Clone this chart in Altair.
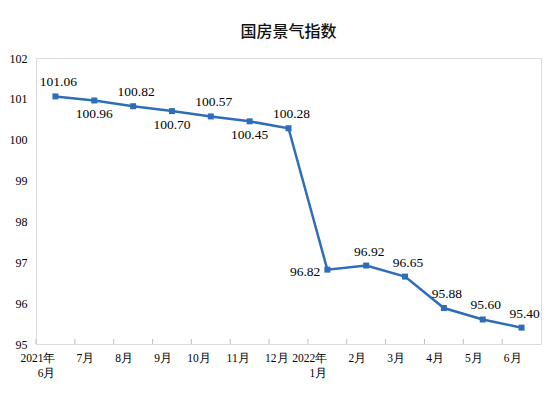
import altair as alt
import pandas as pd

months = ["2021年|6月", "7月", "8月", "9月", "10月", "11月", "12月",
          "2022年|1月", "2月", "3月", "4月", "5月", "6月"]
values = [101.06, 100.96, 100.82, 100.70, 100.57, 100.45, 100.28,
          96.82, 96.92, 96.65, 95.88, 95.60, 95.40]
label_pos = ["above", "below", "above", "below", "above", "below", "above",
             "left", "above", "above", "above", "above", "above"]
y_ticks = [95, 96, 97, 98, 99, 100, 101, 102]

df = pd.DataFrame({"month": months, "value": values, "pos": label_pos,
                   "text": [f"{v:.2f}" for v in values]})

W, H = 505, 286
BLUE = "#2e6eb8"
GRAY = "#bfbfbf"
SERIF = "Liberation Serif"

xscale = alt.Scale(type="band", paddingInner=0, paddingOuter=0)
yscale = alt.Scale(domain=[95, 102], nice=False, zero=False)

x_enc = alt.X("month:N", sort=None, scale=xscale, bandPosition=0.5,
              axis=alt.Axis(title=None, labelAngle=0, ticks=False, domain=False,
                            labelExpr="split(datum.label, '|')",
                            labelFont=SERIF, labelFontSize=11.5, labelColor="#000",
                            labelPadding=14, labelLineHeight=15))
y_enc = alt.Y("value:Q", scale=yscale,
              axis=alt.Axis(title=None, values=y_ticks, ticks=False, domain=False,
                            grid=False, labelFont=SERIF, labelFontSize=12,
                            labelColor="#000", labelPadding=9))

base = alt.Chart(df)

line = base.mark_line(color=BLUE, strokeWidth=2.5).encode(x=x_enc, y=y_enc)
pts = base.mark_square(color=BLUE, size=36, opacity=1).encode(
    x=alt.X("month:N", sort=None, scale=xscale, bandPosition=0.5),
    y=alt.Y("value:Q", scale=yscale))

ticks = base.mark_rule(color=GRAY, strokeWidth=1).encode(
    x=alt.X("month:N", sort=None, scale=xscale, bandPosition=0),
    y=alt.value(H - 5), y2=alt.value(H))

def labels(pos, **kw):
    return base.transform_filter(alt.datum.pos == pos).mark_text(
        font=SERIF, fontSize=13.5, color="#000", baseline="middle", **kw).encode(
        x=alt.X("month:N", sort=None, scale=xscale, bandPosition=0.5),
        y=alt.Y("value:Q", scale=yscale),
        text="text:N")

lab_above = labels("above", dy=-14, dx=3)
lab_below = labels("below", dy=14)
lab_left = labels("left", align="right", dx=-7, dy=2)

chart = alt.layer(ticks, line, pts, lab_above, lab_below, lab_left).properties(
    width=W, height=H,
    title=alt.TitleParams("国房景气指数", font="Noto Sans CJK SC", fontSize=16,
                          fontWeight=500, color="#111", anchor="middle",
                          offset=12),
    autosize=alt.AutoSizeParams(type="none"),
    padding={"left": 28, "top": 50, "right": 7, "bottom": 54},
).configure_view(stroke=GRAY, strokeWidth=1.2).configure(background="white")

chart.save("out.html", embed_options={"renderer": "svg", "actions": False})
